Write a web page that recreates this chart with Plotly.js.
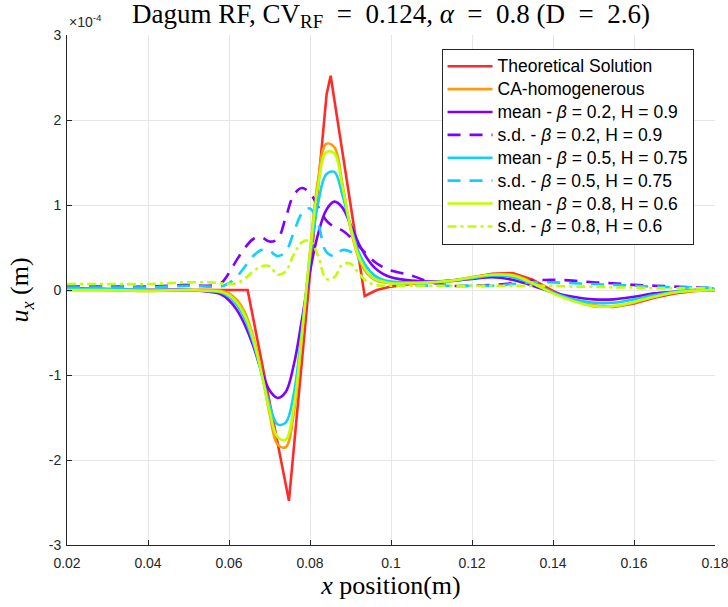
<!DOCTYPE html>
<html>
<head>
<meta charset="utf-8">
<script src="https://cdn.plot.ly/plotly-3.0.1.min.js"></script>
<style>html,body{margin:0;padding:0;background:#fff;}#chart{width:728px;height:607px;}</style>
</head>
<body>
<div id="chart"></div>
<script>
// values in units of 1e-4 m
const xTheo = [0.02, 0.0646, 0.0748, 0.0841, 0.0851, 0.0935, 0.0965, 0.1, 0.105, 0.11, 0.115, 0.12, 0.125, 0.13, 0.135, 0.14, 0.145, 0.15, 0.155, 0.16, 0.165, 0.17, 0.175, 0.18];
const yTheo = [0, 0, -2.48, 2.3, 2.52, -0.07, 0.0, 0.04, 0.07, 0.09, 0.11, 0.15, 0.19, 0.2, 0.12, -0.01, -0.12, -0.19, -0.2, -0.16, -0.09, -0.04, -0.01, 0.0];

const xMean = [0.02, 0.03, 0.04, 0.05, 0.055, 0.058, 0.060, 0.062, 0.064, 0.066, 0.068, 0.070, 0.072, 0.074, 0.076, 0.078, 0.080, 0.082, 0.084, 0.086, 0.088, 0.090, 0.092, 0.094, 0.096, 0.098, 0.100, 0.105, 0.110, 0.115, 0.120, 0.125, 0.130, 0.135, 0.140, 0.145, 0.150, 0.155, 0.160, 0.165, 0.170, 0.175, 0.180];
const yHomog = [0.01, 0.0, -0.01, 0.0, 0.0, -0.01, -0.04, -0.12, -0.27, -0.55, -0.95, -1.45, -1.82, -1.85, -1.45, -0.55, 0.45, 1.3, 1.72, 1.68, 1.25, 0.72, 0.38, 0.2, 0.12, 0.09, 0.08, 0.08, 0.09, 0.1, 0.14, 0.18, 0.18, 0.09, -0.03, -0.12, -0.18, -0.19, -0.15, -0.08, -0.03, -0.01, 0.0];
const yMean02 = [0.02, 0.01, 0.0, 0.0, -0.02, -0.05, -0.12, -0.24, -0.42, -0.66, -0.95, -1.18, -1.27, -1.2, -0.88, -0.35, 0.22, 0.66, 0.94, 1.04, 0.97, 0.77, 0.55, 0.38, 0.26, 0.19, 0.15, 0.11, 0.1, 0.11, 0.13, 0.15, 0.12, 0.05, -0.03, -0.08, -0.11, -0.11, -0.08, -0.04, -0.02, 0.0, 0.0];
const yMean05 = [0.01, 0.01, 0.0, 0.0, -0.01, -0.03, -0.08, -0.18, -0.35, -0.62, -0.98, -1.35, -1.58, -1.56, -1.22, -0.48, 0.37, 1.02, 1.36, 1.39, 1.12, 0.75, 0.45, 0.27, 0.17, 0.12, 0.1, 0.09, 0.09, 0.11, 0.14, 0.17, 0.15, 0.07, -0.03, -0.11, -0.15, -0.15, -0.11, -0.06, -0.02, 0.0, 0.0];
const yMean08 = [0.0, 0.0, -0.01, 0.0, -0.01, -0.02, -0.06, -0.15, -0.31, -0.58, -0.97, -1.42, -1.73, -1.76, -1.38, -0.52, 0.43, 1.23, 1.62, 1.61, 1.22, 0.74, 0.4, 0.22, 0.13, 0.1, 0.08, 0.08, 0.09, 0.11, 0.15, 0.18, 0.17, 0.08, -0.04, -0.13, -0.19, -0.19, -0.14, -0.08, -0.03, -0.01, 0.0];

const xSd = [0.02, 0.03, 0.04, 0.045, 0.05, 0.055, 0.058, 0.060, 0.062, 0.064, 0.066, 0.068, 0.070, 0.072, 0.074, 0.076, 0.078, 0.080, 0.082, 0.084, 0.086, 0.088, 0.090, 0.092, 0.094, 0.096, 0.098, 0.100, 0.105, 0.110, 0.115, 0.120, 0.125, 0.130, 0.135, 0.140, 0.145, 0.150, 0.155, 0.160, 0.165, 0.170, 0.175, 0.180];
const ySd02 = [0.04, 0.04, 0.04, 0.05, 0.06, 0.05, 0.08, 0.2, 0.36, 0.5, 0.6, 0.62, 0.57, 0.6, 0.85, 1.12, 1.2, 1.14, 0.98, 0.82, 0.74, 0.7, 0.62, 0.52, 0.42, 0.33, 0.27, 0.23, 0.17, 0.09, 0.05, 0.05, 0.06, 0.08, 0.11, 0.12, 0.11, 0.09, 0.08, 0.06, 0.05, 0.04, 0.03, 0.02];
const ySd05 = [0.03, 0.03, 0.03, 0.04, 0.05, 0.04, 0.04, 0.08, 0.16, 0.28, 0.4, 0.47, 0.46, 0.4, 0.45, 0.68, 0.9, 0.96, 0.78, 0.45, 0.4, 0.47, 0.45, 0.36, 0.25, 0.16, 0.11, 0.08, 0.06, 0.05, 0.05, 0.05, 0.05, 0.07, 0.09, 0.09, 0.08, 0.07, 0.06, 0.05, 0.04, 0.03, 0.03, 0.02];
const ySd08 = [0.07, 0.07, 0.07, 0.08, 0.09, 0.09, 0.08, 0.07, 0.08, 0.14, 0.22, 0.28, 0.28, 0.18, 0.22, 0.42, 0.56, 0.58, 0.4, 0.13, 0.15, 0.3, 0.31, 0.2, 0.1, 0.06, 0.05, 0.05, 0.05, 0.05, 0.05, 0.05, 0.05, 0.05, 0.05, 0.05, 0.04, 0.04, 0.03, 0.03, 0.02, 0.02, 0.02, 0.02];

const names = ['Theoretical Solution', 'CA-homogenerous',
  'mean - <i>β</i> = 0.2, H = 0.9', 's.d. - <i>β</i> = 0.2, H = 0.9',
  'mean - <i>β</i> = 0.5, H = 0.75', 's.d. - <i>β</i> = 0.5, H = 0.75',
  'mean - <i>β</i> = 0.8, H = 0.6', 's.d. - <i>β</i> = 0.8, H = 0.6'];

const xTickVals = [0.02, 0.04, 0.06, 0.08, 0.1, 0.12, 0.14, 0.16, 0.18];
const xTickText = ['0.02', '0.04', '0.06', '0.08', '0.1', '0.12', '0.14', '0.16', '0.18'];
const yTickVals = [-3, -2, -1, 0, 1, 2, 3];
const yTickText = ['-3', '-2', '-1', '0', '1', '2', '3'];

const cRed = '#ff2b2b', cOrange = '#ff9a10', cPurple = '#8000ff', cCyan = '#10d0ff', cGreen = '#c0ff00';
const W = 2.6;
function tr(x, y, name, color, dash, shape) {
  return {x: x, y: y, name: '<span style="font-size:17.5px">' + name + '</span>', type: 'scatter', mode: 'lines',
    line: {color: color, width: W, dash: dash || 'solid', shape: shape || 'spline', smoothing: 1.0}};
}
const data = [
  tr(xTheo, yTheo, names[0], cRed, 'solid', 'linear'),
  tr(xMean, yHomog, names[1], cOrange),
  tr(xMean, yMean02, names[2], cPurple),
  tr(xSd, ySd02, names[3], cPurple, '13px,9px'),
  tr(xMean, yMean05, names[4], cCyan),
  tr(xSd, ySd05, names[5], cCyan, '13px,9px'),
  tr(xMean, yMean08, names[6], cGreen),
  tr(xSd, ySd08, names[7], cGreen, '9px,4px,3px,4px')
];
const sp = '\u2002';
const layout = {
  width: 728, height: 607,
  margin: {l: 67, r: 13, t: 35, b: 62},
  paper_bgcolor: '#fff', plot_bgcolor: '#fff',
  showlegend: true,
  title: {text: 'Dagum RF, CV<sub>RF</sub>' + sp + '=' + sp + '0.124, <i>α</i>' + sp + '=' + sp + '0.8 (D' + sp + '=' + sp + '2.6)',
    font: {family: 'Liberation Serif', size: 27, color: '#000'},
    xref: 'paper', x: 0.5, xanchor: 'center', yref: 'container', y: 0.978, yanchor: 'middle'},
  xaxis: {range: [0.02, 0.18], tickvals: xTickVals, ticktext: xTickText,
    showgrid: true, gridcolor: '#e6e6e6', gridwidth: 1, zeroline: false,
    showline: true, linecolor: '#262626', linewidth: 1,
    ticks: 'inside', ticklen: 5, tickcolor: '#262626', ticklabelstandoff: 5,
    ticklabeloverflow: 'allow',
    tickfont: {family: 'Liberation Sans', size: 14, color: '#262626'},
    title: {text: '<i>x</i> position(m)', font: {family: 'Liberation Serif', size: 26, color: '#000'}, standoff: 6},
    automargin: false},
  yaxis: {range: [-3, 3], tickvals: yTickVals, ticktext: yTickText,
    showgrid: true, gridcolor: '#e6e6e6', gridwidth: 1, zeroline: false,
    showline: true, linecolor: '#262626', linewidth: 1,
    ticks: 'inside', ticklen: 5, tickcolor: '#262626', ticklabelstandoff: 2,
    ticklabeloverflow: 'allow',
    tickfont: {family: 'Liberation Sans', size: 14, color: '#262626'},
    title: {text: '<i>u<sub>x</sub></i> (m)', font: {family: 'Liberation Serif', size: 26, color: '#000'}, standoff: 12},
    automargin: false},
  legend: {x: 0.578, xanchor: 'left', y: 0.973, yanchor: 'top',
    bgcolor: '#fff', bordercolor: '#262626', borderwidth: 1,
    font: {family: 'Liberation Sans', size: 15.3, color: '#000'},
    itemwidth: 45, tracegroupgap: 0},
  annotations: [{xref: 'paper', yref: 'paper', x: 0, y: 1, xanchor: 'left', yanchor: 'bottom',
    text: '×10<sup>-4</sup>', showarrow: false, yshift: 3,
    font: {family: 'Liberation Sans', size: 14, color: '#262626'}}]
};
Plotly.newPlot('chart', data, layout, {displayModeBar: false, staticPlot: true});
</script>
</body>
</html>
